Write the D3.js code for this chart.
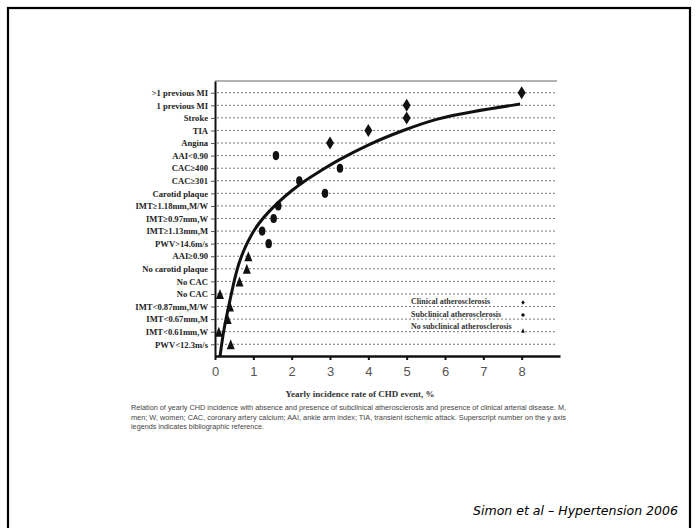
<!DOCTYPE html>
<html>
<head>
<meta charset="utf-8">
<script src="https://cdn.jsdelivr.net/npm/d3@7"></script>
<style>
  body { margin: 0; background: #fff; }
  svg { display: block; }
</style>
</head>
<body>
<svg id="chart" width="698" height="528"></svg>
<script>
// rows of the y axis, top to bottom
const labels = [
  ">1 previous MI", "1 previous MI", "Stroke", "TIA", "Angina",
  "AAI<0.90", "CAC≥400", "CAC≥301", "Carotid plaque",
  "IMT≥1.18mm,M/W", "IMT≥0.97mm,W", "IMT≥1.13mm,M", "PWV>14.6m/s",
  "AAI≥0.90", "No carotid plaque", "No CAC", "No CAC",
  "IMT<0.87mm,M/W", "IMT<0.67mm,M", "IMT<0.61mm,W", "PWV<12.3m/s"
];
// yearly incidence rate (%) for each row
const incidence = [
  8, 5, 5, 4, 3,
  1.59, 3.26, 2.2, 2.87, 1.65, 1.53, 1.23, 1.4,
  0.87, 0.83, 0.64, 0.13, 0.39, 0.33, 0.1, 0.41
];
const group = [
  "clinical", "clinical", "clinical", "clinical", "clinical",
  "subclinical", "subclinical", "subclinical", "subclinical",
  "subclinical", "subclinical", "subclinical", "subclinical",
  "none", "none", "none", "none", "none", "none", "none", "none"
];
const xTicks = [0, 1, 2, 3, 4, 5, 6, 7, 8];
// fitted curve (x in %, y in row units)
const fitX = [0.13, 0.22, 0.35, 0.48, 0.61, 0.78, 0.96, 1.13, 1.39, 1.65, 2.0, 2.35, 2.78, 3.15, 4.04, 4.91, 5.78, 6.65, 7.96];
const fitRow = [21.0, 18.94, 17.08, 15.21, 13.62, 12.29, 11.22, 10.42, 9.49, 8.7, 7.77, 6.97, 6.17, 5.45, 4.04, 2.98, 2.05, 1.52, 0.9];
const legendNames = ["Clinical atherosclerosis", "Subclinical atherosclerosis", "No subclinical atherosclerosis"];
const legendGroups = ["clinical", "subclinical", "none"];
const caption = [
  "Relation of yearly CHD incidence with absence and presence of subclinical atherosclerosis and presence of clinical arterial disease. M,",
  "men; W, women; CAC, coronary artery calcium; AAI, ankle arm index; TIA, transient ischemic attack. Superscript number on the y axis",
  "legends indicates bibliographic reference."
];

const svg = d3.select("#chart");
const plot = { left: 215, right: 560, top: 81, bottom: 356 };

// slide frame
svg.append("rect")
  .attr("x", 8).attr("y", 8)
  .attr("width", 682).attr("height", 530)
  .attr("fill", "none")
  .attr("stroke", "#000")
  .attr("stroke-width", 2.2);

const x = d3.scaleLinear().domain([0, 9]).range([plot.left, plot.right]);
const y = d3.scalePoint().domain(d3.range(labels.length))
  .range([plot.top, plot.bottom]).padding(0.934);
const rowY = d3.scaleLinear().domain([0, labels.length - 1])
  .range([y(0), y(labels.length - 1)]);

// dotted row lines
svg.append("g")
  .selectAll("line")
  .data(labels)
  .join("line")
  .attr("x1", plot.left + 2)
  .attr("x2", 557)
  .attr("y1", (d, i) => y(i))
  .attr("y2", (d, i) => y(i))
  .attr("stroke", "#777")
  .attr("stroke-width", 1)
  .attr("stroke-dasharray", "2,2");

// top frame line
svg.append("line")
  .attr("x1", plot.left).attr("x2", 557)
  .attr("y1", plot.top).attr("y2", plot.top)
  .attr("stroke", "#999")
  .attr("stroke-width", 1.5);

// y axis
const yAxis = svg.append("g")
  .attr("transform", `translate(${plot.left},0)`)
  .call(d3.axisLeft(y).tickSize(4).tickSizeOuter(0).tickFormat((i) => labels[i]));
yAxis.select(".domain").attr("stroke", "#111").attr("stroke-width", 2);
yAxis.selectAll(".tick line").attr("stroke", "#555").attr("stroke-width", 1);
yAxis.selectAll(".tick text")
  .attr("x", -7)
  .attr("fill", "#222")
  .style("font-family", "'Liberation Serif', 'DejaVu Serif', serif")
  .style("font-weight", "bold")
  .style("font-size", "8.6px");

// x axis
const xAxis = svg.append("g")
  .attr("transform", `translate(0,${plot.bottom})`)
  .call(d3.axisBottom(x).tickValues(xTicks).tickSize(4).tickSizeOuter(0));
xAxis.select(".domain").attr("stroke", "#111").attr("stroke-width", 2.6);
xAxis.selectAll(".tick line").attr("stroke", "#111").attr("stroke-width", 2);
xAxis.selectAll(".tick text")
  .attr("y", 11)
  .attr("fill", "#555")
  .style("font-family", "'Liberation Sans Narrow', 'Liberation Sans', Arial, sans-serif")
  .style("font-size", "13px");

svg.append("text")
  .attr("x", 360).attr("y", 397)
  .attr("text-anchor", "middle")
  .attr("fill", "#333")
  .style("font-family", "'Liberation Serif', serif")
  .style("font-weight", "bold")
  .style("font-size", "9px")
  .text("Yearly incidence rate of CHD event, %");

// fitted curve
const line = d3.line()
  .x((d, i) => x(fitX[i]))
  .y((d) => rowY(d))
  .curve(d3.curveBasis);
svg.append("path")
  .attr("d", line(fitRow))
  .attr("fill", "none")
  .attr("stroke", "#111")
  .attr("stroke-width", 3);

// marks
const shape = (g, w, h) => {
  if (g === "clinical") return `M0,${-h / 2}L${w / 2},0L0,${h / 2}L${-w / 2},0Z`;
  if (g === "none") return `M0,${-h / 2}L${w / 2},${h / 2}L${-w / 2},${h / 2}Z`;
  return d3.arc()({ innerRadius: 0, outerRadius: w / 2, startAngle: 0, endAngle: 2 * Math.PI });
};
svg.append("g")
  .selectAll("path")
  .data(incidence)
  .join("path")
  .attr("transform", (d, i) => {
    const s = group[i] === "subclinical" ? ",scale(1,1.4)" : "";
    return `translate(${x(d)},${y(i)})${s}`;
  })
  .attr("d", (d, i) => group[i] === "subclinical" ? shape("subclinical", 6.5, 0)
    : group[i] === "clinical" ? shape("clinical", 8, 13) : shape("none", 8, 10))
  .attr("fill", "#111");

// legend
const legend = svg.append("g")
  .selectAll("g")
  .data(legendNames)
  .join("g")
  .attr("transform", (d, i) => `translate(0,${y(17) + 12.5 * i - 5})`);
legend.append("text")
  .attr("x", 411)
  .attr("y", 0)
  .attr("dy", "0.32em")
  .attr("fill", "#333")
  .style("font-family", "'Liberation Serif', serif")
  .style("font-weight", "bold")
  .style("font-size", "8px")
  .text((d) => d);
legend.append("path")
  .attr("transform", (d, i) => `translate(523,${i === 2 ? 4 : 1})`)
  .attr("d", (d, i) => shape(legendGroups[i], 3.5, 4.5))
  .attr("fill", "#111");

// caption
svg.append("g")
  .selectAll("text")
  .data(caption)
  .join("text")
  .attr("x", 131)
  .attr("y", (d, i) => 410 + 9.5 * i)
  .attr("fill", "#444")
  .attr("textLength", (d, i) => i === 2 ? 133 : 435)
  .attr("lengthAdjust", "spacingAndGlyphs")
  .style("font-family", "'Liberation Sans', Arial, sans-serif")
  .style("font-size", "7.2px")
  .text((d) => d);

svg.append("text")
  .attr("x", 473).attr("y", 515)
  .attr("textLength", 205)
  .attr("lengthAdjust", "spacingAndGlyphs")
  .style("font-family", "'DejaVu Sans', sans-serif")
  .style("font-style", "italic")
  .style("font-size", "12.5px")
  .attr("fill", "#000")
  .text("Simon et al – Hypertension 2006");
</script>
</body>
</html>
